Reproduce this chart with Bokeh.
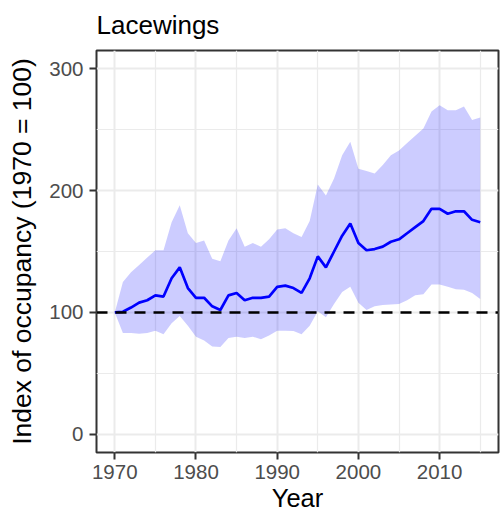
from bokeh.plotting import figure
from bokeh.models import ColumnDataSource, FixedTicker, Span, Range1d
from bokeh.embed import file_html
from bokeh.resources import INLINE

title = "Lacewings"
years = list(range(1970, 2016))
index = [100, 100.5, 104, 108, 110, 114, 113, 128, 137, 120,
         112, 112, 105, 102, 114, 116, 110, 112, 112, 113,
         121, 122, 120, 116, 128, 146, 137, 150, 163, 173,
         157, 151, 152, 154, 158, 160, 165, 170, 175, 185,
         185, 181, 183, 183, 176, 174]
upper = [100, 125, 133, 139, 145, 151, 151, 174, 188, 165,
         157, 159, 144, 142, 159, 169, 154, 157, 154, 160,
         168, 169, 165, 162, 175, 205, 196, 210, 229, 240,
         218, 216, 214, 221, 229, 233, 239, 245, 251, 265,
         270, 266, 266, 269, 258, 260]
lower = [100, 83, 83, 82.5, 83, 85, 82, 91, 97, 89,
         80, 77, 72, 71.6, 79, 80, 79, 80, 78, 81,
         85, 85, 84.7, 82, 89, 101, 96, 107, 116.7, 121,
         108, 102, 105, 106, 106.5, 107, 110, 114, 115, 123,
         123, 121, 119, 118.6, 116, 111]
baseline = 100
x_ticks = [1970, 1980, 1990, 2000, 2010]
x_minor = [1975, 1985, 1995, 2005, 2015]
y_ticks = [0, 100, 200, 300]
y_minor = [50, 150, 250]

src = ColumnDataSource(dict(year=years, index=index, upper=upper, lower=lower))

FONT = "Liberation Sans"
p = figure(width=502, height=519, output_backend="svg", toolbar_location=None,
           x_range=Range1d(1967.75, 2017.25), y_range=Range1d(-15, 315),
           min_border_left=96, min_border_right=4, min_border_top=50,
           min_border_bottom=67, background_fill_color="white",
           border_fill_color="white")

p.title.text = title
p.title.text_font = FONT
p.title.text_font_size = "26px"
p.title.text_font_style = "normal"
p.title.text_color = "black"
p.title.align = "left"
p.title.vertical_align = "top"
p.title.standoff = 18

p.outline_line_color = "#333333"
p.outline_line_width = 2

p.xaxis.ticker = FixedTicker(ticks=x_ticks, minor_ticks=x_minor)
p.yaxis.ticker = FixedTicker(ticks=y_ticks, minor_ticks=y_minor)
for ax in (p.xaxis, p.yaxis):
    ax.axis_line_color = None
    ax.major_tick_line_color = "#333333"
    ax.major_tick_line_width = 2
    ax.major_tick_out = 7
    ax.major_tick_in = 0
    ax.minor_tick_line_color = None
    ax.major_label_text_font = FONT
    ax.major_label_text_font_size = "20.5px"
    ax.major_label_text_color = "#4D4D4D"
    ax.axis_label_text_font = FONT
    ax.axis_label_text_font_style = "normal"
    ax.axis_label_text_color = "black"
p.xaxis.axis_label = "Year"
p.yaxis.axis_label = "Index of occupancy (1970 = 100)"
p.xaxis.axis_label_text_font_size = "25.5px"
p.yaxis.axis_label_text_font_size = "26.5px"
p.xaxis.major_label_standoff = 5
p.yaxis.major_label_standoff = 6
p.xaxis.axis_label_standoff = 2
p.yaxis.axis_label_standoff = 9

for g in (p.xgrid, p.ygrid):
    g.grid_line_color = "#EBEBEB"
    g.grid_line_width = 2
    g.minor_grid_line_color = "#EBEBEB"
    g.minor_grid_line_width = 1.2

p.varea(x="year", y1="lower", y2="upper", source=src,
        fill_color="blue", fill_alpha=0.2)
p.line(x="year", y="index", source=src, line_color="blue", line_width=2.7)
p.add_layout(Span(location=baseline, dimension="width", line_color="black",
                  line_width=2.5, line_dash="11 8"))

open("out.html", "w").write(file_html(p, INLINE))
